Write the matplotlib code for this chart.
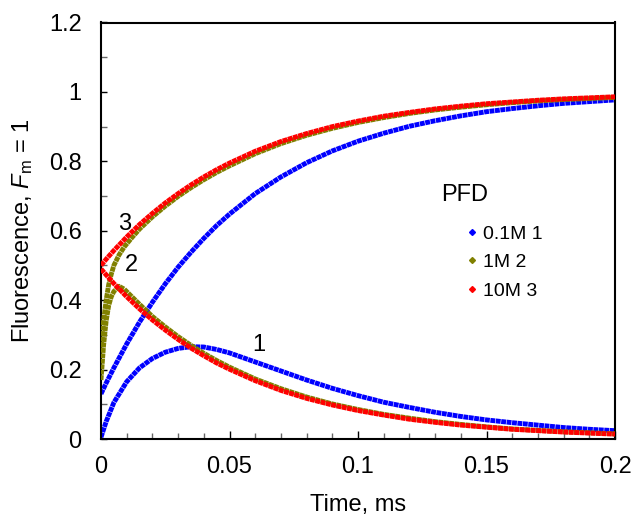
import matplotlib
matplotlib.use("Agg")
import matplotlib.pyplot as plt
from matplotlib.lines import Line2D
from matplotlib.ticker import MultipleLocator

plt.rcParams['font.family'] = ['Liberation Sans', 'DejaVu Sans']
plt.rcParams['mathtext.fontset'] = 'custom'
plt.rcParams['mathtext.rm'] = 'Liberation Sans'
plt.rcParams['mathtext.it'] = 'Liberation Sans:italic'

# ---------------- data ----------------
t_main = [0, 0.002, 0.005, 0.01, 0.015, 0.02, 0.025, 0.03, 0.035, 0.04, 0.045,
          0.05, 0.06, 0.07, 0.08, 0.09, 0.1, 0.11, 0.12, 0.13, 0.14, 0.15,
          0.16, 0.17, 0.18, 0.19, 0.2]

# PFD 0.1M (curves "1")
blue_up = [0.130, 0.161, 0.205, 0.274, 0.337, 0.394, 0.447, 0.495, 0.538, 0.578,
           0.615, 0.648, 0.707, 0.755, 0.796, 0.830, 0.858, 0.881, 0.901, 0.917,
           0.931, 0.943, 0.952, 0.960, 0.967, 0.972, 0.977]
blue_down = [0.005, 0.050, 0.105, 0.165, 0.205, 0.232, 0.250, 0.261, 0.266, 0.265,
             0.258, 0.248, 0.222, 0.196, 0.170, 0.146, 0.125, 0.106, 0.091, 0.077,
             0.065, 0.055, 0.047, 0.040, 0.033, 0.028, 0.024]

# PFD 10M (curves "3")
red_up = [0.500, 0.518, 0.543, 0.582, 0.618, 0.650, 0.680, 0.707, 0.732, 0.755,
          0.776, 0.795, 0.829, 0.857, 0.880, 0.900, 0.916, 0.930, 0.941, 0.951,
          0.959, 0.966, 0.971, 0.976, 0.980, 0.983, 0.986]
red_down = [0.490, 0.473, 0.448, 0.410, 0.375, 0.343, 0.314, 0.287, 0.262, 0.240,
            0.219, 0.201, 0.168, 0.140, 0.117, 0.098, 0.082, 0.069, 0.057, 0.048,
            0.040, 0.034, 0.028, 0.024, 0.020, 0.017, 0.014]

# PFD 1M (curves "2") - denser near the start
t_olive = [0, 0.001, 0.002, 0.003, 0.004, 0.005, 0.007, 0.009, 0.012, 0.015, 0.02,
           0.025, 0.03, 0.035, 0.04, 0.045, 0.05, 0.06, 0.07, 0.08, 0.09, 0.1,
           0.11, 0.12, 0.13, 0.14, 0.15, 0.16, 0.17, 0.18, 0.19, 0.2]
olive_up = [0.250, 0.340, 0.400, 0.445, 0.475, 0.500, 0.530, 0.553, 0.580, 0.605,
            0.640, 0.671, 0.699, 0.724, 0.747, 0.768, 0.787, 0.822, 0.851, 0.875,
            0.895, 0.912, 0.926, 0.938, 0.948, 0.956, 0.963, 0.969, 0.974, 0.978,
            0.981, 0.984]
olive_down = [0.170, 0.270, 0.340, 0.385, 0.410, 0.425, 0.440, 0.432, 0.410, 0.388,
              0.353, 0.323, 0.295, 0.270, 0.247, 0.226, 0.207, 0.173, 0.145, 0.121,
              0.101, 0.085, 0.071, 0.060, 0.050, 0.042, 0.035, 0.029, 0.025, 0.021,
              0.018, 0.015]

legend_labels = ['0.1M 1', '1M 2', '10M 3']
legend_title = 'PFD'
colors = ['#0000ff', '#808000', '#ff0000']
x_ticks = [0, 0.05, 0.1, 0.15, 0.2]
x_tick_labels = ['0', '0.05', '0.1', '0.15', '0.2']
y_ticks = [0, 0.2, 0.4, 0.6, 0.8, 1.0, 1.2]
y_tick_labels = ['0', '0.2', '0.4', '0.6', '0.8', '1', '1.2']

# ---------------- figure ----------------
fig = plt.figure(figsize=(6.34, 5.2), dpi=100)
ax = fig.add_axes([101 / 634, 1 - 439 / 520, 514 / 634, 416.5 / 520])

ls = (0, (1.0, 0.12))
lw = 3.5
ax.plot(t_main, blue_up, color=colors[0], lw=lw, ls=ls, zorder=2)
ax.plot(t_main, blue_down, color=colors[0], lw=lw, ls=ls, zorder=2)
ax.plot(t_olive, olive_up, color=colors[1], lw=lw, ls=ls, zorder=3)
ax.plot(t_olive, olive_down, color=colors[1], lw=lw, ls=ls, zorder=3)
ax.plot(t_main, red_up, color=colors[2], lw=lw, ls=ls, zorder=4)
ax.plot(t_main, red_down, color=colors[2], lw=lw, ls=ls, zorder=4)

ax.set_xlim(0, 0.2)
ax.set_ylim(0, 1.2)
ax.set_xticks(x_ticks)
ax.set_xticklabels(x_tick_labels)
ax.set_yticks(y_ticks)
ax.set_yticklabels(y_tick_labels)
ax.xaxis.set_minor_locator(MultipleLocator(0.01))
ax.yaxis.set_minor_locator(MultipleLocator(0.1))
ax.tick_params(axis='both', which='both', direction='in', labelsize=17,
               top=False, right=False)
ax.tick_params(axis='x', which='major', length=6, width=1, pad=12)
ax.tick_params(axis='x', which='minor', length=4.5, width=1, color='#666666')
ax.tick_params(axis='y', which='major', length=4.5, width=1, pad=14)
ax.tick_params(axis='y', which='minor', length=4.5, width=1, color='#666666')
for s in ax.spines.values():
    s.set_linewidth(1.5)

ax.set_xlabel('Time, ms', fontsize=17, labelpad=12)
ax.set_ylabel(r'Fluorescence, $F_\mathrm{m}$ = 1', fontsize=17, labelpad=10)

# curve labels
ax.text(0.0091, 0.619, '3', fontsize=17, ha='center', va='center')
ax.text(0.0119, 0.500, '2', fontsize=17, ha='center', va='center')
ax.text(0.0615, 0.270, '1', fontsize=17, ha='center', va='center')

# legend
ax.text(0.707, 0.587, legend_title, transform=ax.transAxes, fontsize=17,
        ha='center', va='center')
handles = [Line2D([], [], ls='none', marker='D', ms=3, color=c) for c in colors]
ax.legend(handles, legend_labels, loc='upper left', bbox_to_anchor=(0.71, 0.513),
          frameon=False, fontsize=14, handlelength=0.6, handletextpad=0.3,
          labelspacing=0.55, borderpad=0, borderaxespad=0)

fig.savefig('out.png', dpi=100)
